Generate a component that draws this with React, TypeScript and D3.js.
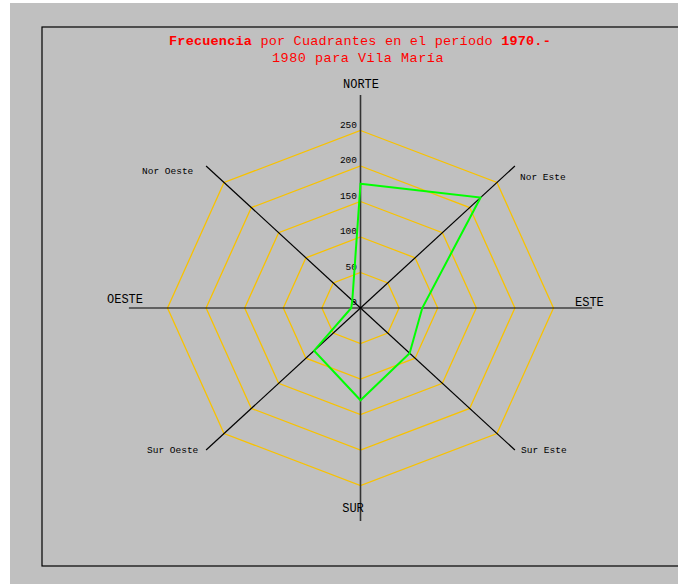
import React from "react";
import * as d3 from "d3";

const directions = ["NORTE", "Nor Este", "ESTE", "Sur Este", "SUR", "Sur Oeste", "OESTE", "Nor Oeste"];
const angles = [90, 45, 0, -45, -90, -135, 180, 135];
const values = [175, 220, 80, 90, 130, 85, 12, 15];
const rings = [50, 100, 150, 200, 250];
const tickLabels = ["0", "50", "100", "150", "200", "250"];
const tickValues = [0, 50, 100, 150, 200, 250];
const titleLine1 = ["Frecuencia", " por Cuadrantes en el período ", "1970.-"];
const titleLine2 = "1980 para Vila María";

const CX = 360.5;
const CY = 308;

export default function App() {
  const sx = d3.scaleLinear().domain([0, 250]).range([0, 193]);
  const sy = d3.scaleLinear().domain([0, 250]).range([0, 177.5]);
  const pt = (r: number, a: number): [number, number] => {
    const rad = (a * Math.PI) / 180;
    return [CX + sx(r * Math.cos(rad)), CY - sy(r * Math.sin(rad))];
  };
  const line = d3.line<[number, number]>().curve(d3.curveLinearClosed);
  const mono = "'Liberation Mono', 'DejaVu Sans Mono', monospace";

  const axisLen = (a: number) => (a % 90 === 0 ? 300 : 200 * Math.SQRT2);

  const labelPos: Record<string, { x: number; y: number; anchor: string; size: number }> = {
    NORTE: { x: 361, y: 88, anchor: "middle", size: 12 },
    SUR: { x: 353, y: 512, anchor: "middle", size: 12 },
    OESTE: { x: 107, y: 303, anchor: "start", size: 12 },
    ESTE: { x: 575, y: 306, anchor: "start", size: 12 },
    "Nor Oeste": { x: 142, y: 174, anchor: "start", size: 9.5 },
    "Nor Este": { x: 520, y: 180, anchor: "start", size: 9.5 },
    "Sur Oeste": { x: 147, y: 453, anchor: "start", size: 9.5 },
    "Sur Este": { x: 521, y: 453, anchor: "start", size: 9.5 },
  };

  return (
    <svg
      width={678}
      height={584}
      style={{ position: "absolute", left: 0, top: 0 }}
    >
      <rect x={0} y={0} width={678} height={584} fill="#ffffff" />
      <rect x={10} y={3} width={668} height={581} fill="#c0c0c0" />
      <rect x={42} y={27} width={700} height={539} fill="none" stroke="#000" strokeWidth={1.2} />
      <text
        x={360}
        y={45}
        textAnchor="middle"
        fill="#ff0000"
        fontFamily={mono}
        fontSize={13.5}
        letterSpacing={0.2}
      >
        {titleLine1.map((t, i) => (
          <tspan key={i} fontWeight={i === 1 ? "normal" : "bold"}>
            {t}
          </tspan>
        ))}
      </text>
      <text
        x={358}
        y={62}
        textAnchor="middle"
        fill="#ff0000"
        fontFamily={mono}
        fontSize={13.5}
        letterSpacing={0.5}
      >
        {titleLine2}
      </text>
      {rings.map((r) => (
        <path
          key={r}
          d={line(angles.map((a) => pt(r, a))) || ""}
          fill="none"
          stroke="#f8c200"
          strokeWidth={1.3}
        />
      ))}
      {angles.map((a, i) => {
        const [x, y] = pt(axisLen(a), a);
        return (
          <line
            key={i}
            x1={CX}
            y1={CY}
            x2={x}
            y2={y}
            stroke={a === 90 || a === -90 ? "#333" : "#000"}
            strokeWidth={a === 90 || a === -90 ? 1.6 : 1.2}
          />
        );
      })}
      {tickValues.map((v, i) => (
        <text
          key={v}
          x={357}
          y={CY - sy(v) - 3}
          textAnchor="end"
          fontFamily={mono}
          fontSize={9.5}
          fill="#000"
        >
          {tickLabels[i]}
        </text>
      ))}
      <path
        d={line(values.map((v, i) => pt(v, angles[i]))) || ""}
        fill="none"
        stroke="#00ff00"
        strokeWidth={2}
      />
      {directions.map((d) => {
        const p = labelPos[d];
        return (
          <text
            key={d}
            x={p.x}
            y={p.y}
            textAnchor={p.anchor as any}
            fontFamily={mono}
            fontSize={p.size}
            fill="#000"
          >
            {d}
          </text>
        );
      })}
    </svg>
  );
}
